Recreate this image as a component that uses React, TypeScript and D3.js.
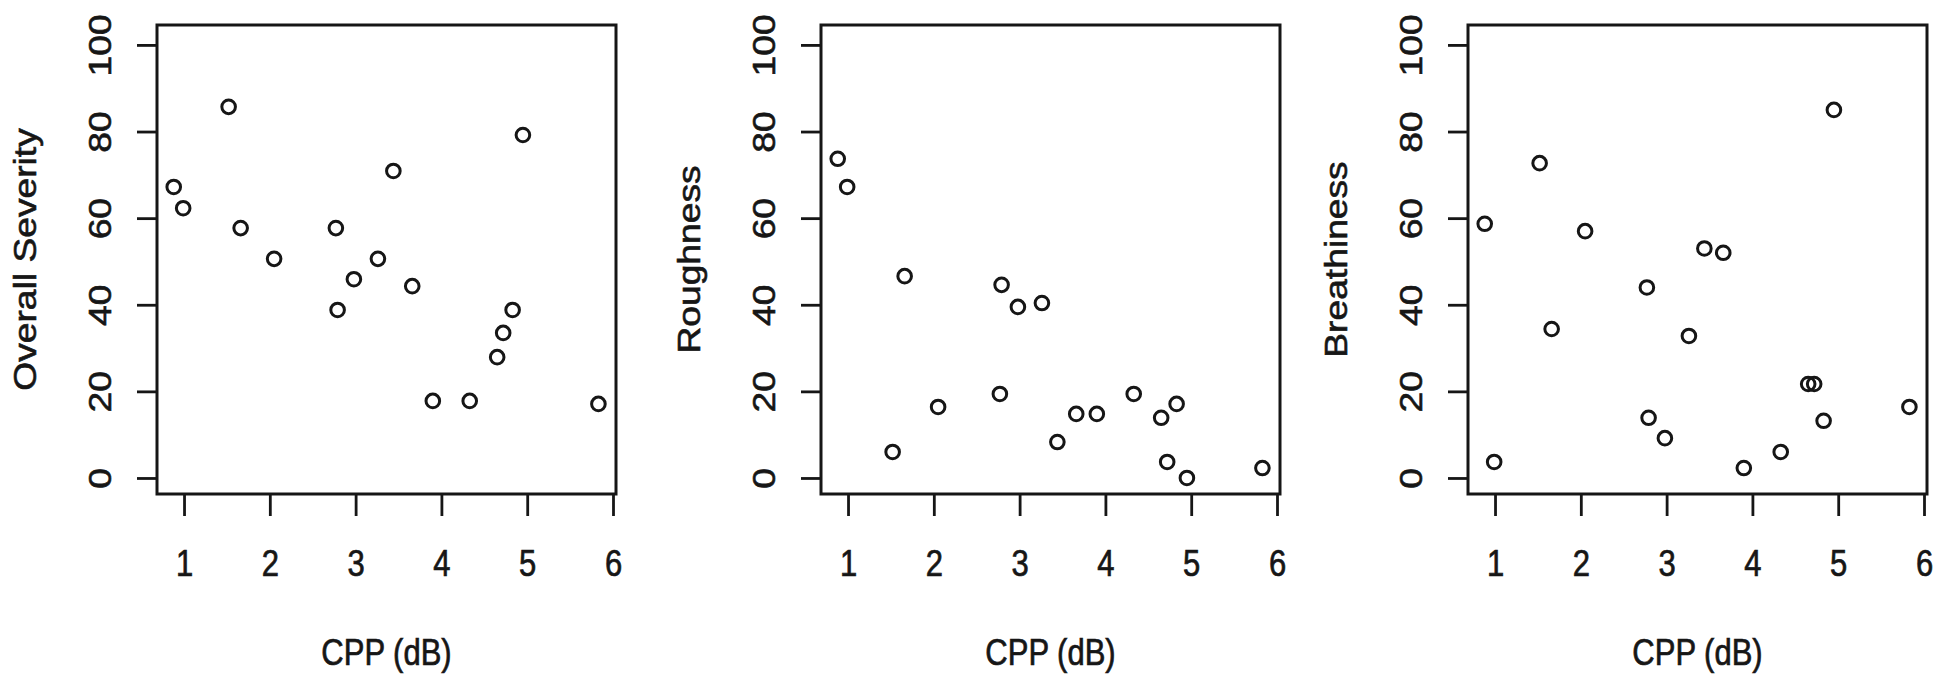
import React, { useEffect, useRef } from "react";
import * as d3 from "d3";

// CPP (dB) per voice sample, shared by the three panels
const cpp = [0.88, 0.99, 1.52, 1.66, 2.05, 2.77, 2.79, 2.98, 3.26, 3.44, 3.66, 3.9, 4.33, 4.65, 4.72, 4.83, 4.95, 5.83];
const severity = [67.2, 62.3, 85.7, 57.7, 50.6, 57.7, 38.8, 45.9, 50.6, 70.9, 44.3, 17.8, 17.8, 27.9, 33.5, 38.8, 79.2, 17.1];
const roughness = [73.7, 67.2, 6.0, 46.6, 16.4, 19.4, 44.6, 39.5, 40.4, 8.3, 14.8, 14.8, 19.4, 13.9, 3.7, 17.1, 0, 2.3];
const breathiness = [58.7, 3.7, 72.7, 34.4, 57, 44, 13.9, 9.2, 32.8, 53, 52, 2.3, 6.0, 21.7, 21.7, 13.2, 85, 16.4];

const xTicks = [1, 2, 3, 4, 5, 6];
const yTicks = [0, 20, 40, 60, 80, 100];
const xTitle = "CPP (dB)";
const panelTitles = ["Overall Severity", "Roughness", "Breathiness"];
const panelValues = [severity, roughness, breathiness];

const W = 1950;
const H = 681;
const panelLefts = [157, 821, 1468];
const panelW = 459;
const top = 25;
const bottom = 494;
const ink = "#161616";
const font = "'Liberation Sans', Arial, Helvetica, sans-serif";
const fontSize = 31;
const stretch = 1.2;

function App() {
  const svgRef = useRef<SVGSVGElement>(null);

  useEffect(() => {
    const svg = d3.select(svgRef.current);
    svg.selectAll("*").remove();

    // R's text looks a bit heavy after resampling
    const textStyle = (sel: any) =>
      sel
        .attr("fill", ink)
        .attr("stroke", ink)
        .attr("stroke-width", 0.6)
        .style("font-family", font)
        .style("font-size", `${fontSize}px`);

    panelValues.forEach((values, i) => {
      const left = panelLefts[i];
      const x = d3.scaleLinear().domain([0.685, 6.035]).range([left, left + panelW]);
      const y = d3.scaleLinear().domain([-3.7, 104.6]).range([bottom, top]);
      const g = svg.append("g");

      // bottom axis
      const xAxis = d3.axisBottom(x).tickValues(xTicks).tickSize(22).tickFormat((d) => `${d}`);
      const gx = g.append("g").attr("transform", `translate(0,${bottom})`).call(xAxis);
      gx.select(".domain").remove();
      gx.selectAll(".tick line").attr("stroke", ink).attr("stroke-width", 2.8);
      gx.selectAll(".tick text")
        .attr("y", null)
        .attr("dy", null)
        .attr("dominant-baseline", "central")
        .attr("transform", `translate(0,69) scale(1,${stretch})`)
        .call(textStyle);

      // left axis, labels rotated like R's default
      const yAxis = d3.axisLeft(y).tickValues(yTicks).tickSize(20);
      const gy = g.append("g").attr("transform", `translate(${left},0)`).call(yAxis);
      gy.select(".domain").remove();
      gy.selectAll(".tick line").attr("stroke", ink).attr("stroke-width", 2.8);
      gy.selectAll(".tick text")
        .attr("x", null)
        .attr("dy", null)
        .attr("text-anchor", "middle")
        .attr("dominant-baseline", "central")
        .attr("transform", `translate(-57,0) rotate(-90) scale(${stretch},1)`)
        .call(textStyle);

      // box
      g.append("rect")
        .attr("x", left)
        .attr("y", top)
        .attr("width", panelW)
        .attr("height", bottom - top)
        .attr("fill", "none")
        .attr("stroke", ink)
        .attr("stroke-width", 3);

      // points
      g.selectAll("circle.pt")
        .data(values)
        .join("circle")
        .attr("class", "pt")
        .attr("cx", (_, j) => x(cpp[j]))
        .attr("cy", (d) => y(d))
        .attr("r", 6.8)
        .attr("fill", "none")
        .attr("stroke", ink)
        .attr("stroke-width", 3);

      // titles
      g.append("text")
        .attr("transform", `translate(${left + panelW / 2},652) scale(1,${stretch})`)
        .attr("text-anchor", "middle")
        .attr("dominant-baseline", "central")
        .call(textStyle)
        .text(xTitle);

      g.append("text")
        .attr("transform", `translate(${left - 132},${(top + bottom) / 2}) rotate(-90) scale(${stretch},1)`)
        .attr("text-anchor", "middle")
        .attr("dominant-baseline", "central")
        .call(textStyle)
        .text(panelTitles[i]);
    });
  }, []);

  return (
    <svg
      ref={svgRef}
      width={W}
      height={H}
      style={{ position: "absolute", left: 0, top: 0, background: "#fff" }}
    />
  );
}

export default App;
